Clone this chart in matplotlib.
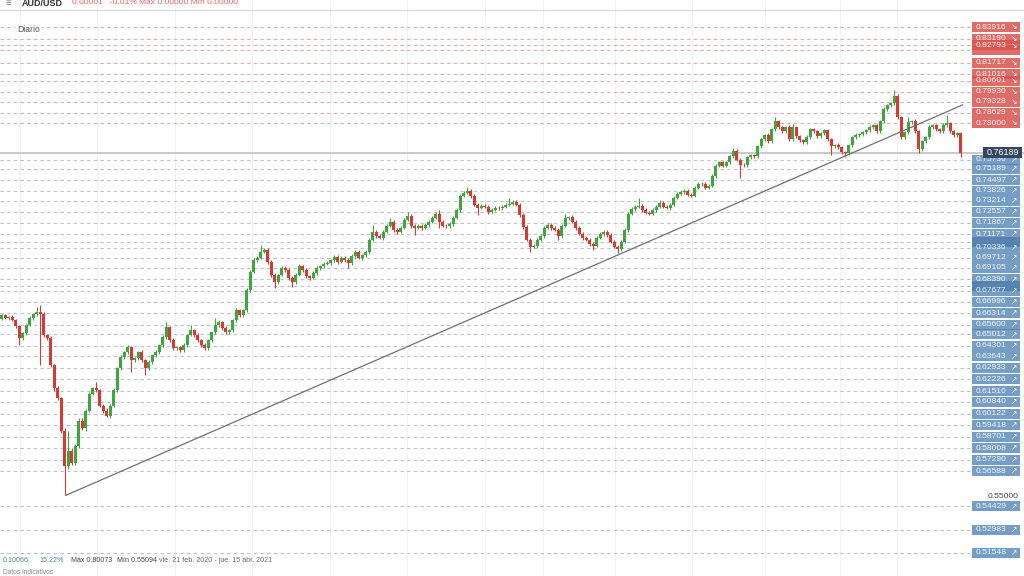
import matplotlib
matplotlib.use("Agg")
import matplotlib.pyplot as plt
from matplotlib.patches import Rectangle

plt.rcParams['font.family'] = ['Liberation Sans', 'DejaVu Sans']

# ---------------- data ----------------
closes = [
    0.6618, 0.6600, 0.6605, 0.6588, 0.6551, 0.6477, 0.6507, 0.6557, 0.6600, 0.6624, 0.6637, 0.6624, 0.6495, 0.6477, 0.6309, 0.6168, 0.6106, 0.5908, 0.5691, 0.5784, 0.5710, 0.5815, 0.5970, 0.5921, 0.6031,
    0.6136, 0.6168, 0.6155, 0.6062, 0.6031, 0.6000, 0.6062, 0.6155, 0.6291, 0.6359, 0.6390, 0.6421, 0.6340, 0.6352, 0.6390, 0.6340, 0.6291, 0.6328, 0.6371, 0.6390, 0.6433, 0.6482, 0.6544, 0.6464, 0.6414,
    0.6420, 0.6402, 0.6433, 0.6495, 0.6526, 0.6495, 0.6464, 0.6433, 0.6414, 0.6464, 0.6513, 0.6557, 0.6575, 0.6538, 0.6513, 0.6526, 0.6588, 0.6649, 0.6618, 0.6649, 0.6773, 0.6885, 0.6958, 0.6971, 0.7008,
    0.7020, 0.6946, 0.6866, 0.6823, 0.6866, 0.6909, 0.6897, 0.6847, 0.6823, 0.6866, 0.6921, 0.6897, 0.6860, 0.6847, 0.6878, 0.6909, 0.6921, 0.6933, 0.6940, 0.6958, 0.6977, 0.6946, 0.6971, 0.6958, 0.6940,
    0.6983, 0.7008, 0.6971, 0.6989, 0.7008, 0.7082, 0.7132, 0.7107, 0.7095, 0.7132, 0.7169, 0.7194, 0.7144, 0.7132, 0.7156, 0.7206, 0.7230, 0.7169, 0.7156, 0.7169, 0.7156, 0.7175, 0.7194, 0.7218, 0.7243,
    0.7194, 0.7169, 0.7165, 0.7181, 0.7218, 0.7267, 0.7354, 0.7372, 0.7385, 0.7354, 0.7298, 0.7280, 0.7292, 0.7286, 0.7255, 0.7267, 0.7280, 0.7276, 0.7286, 0.7298, 0.7304, 0.7317, 0.7298, 0.7236, 0.7162,
    0.7082, 0.7039, 0.7045, 0.7082, 0.7107, 0.7156, 0.7175, 0.7156, 0.7144, 0.7107, 0.7169, 0.7218, 0.7222, 0.7194, 0.7156, 0.7119, 0.7095, 0.7082, 0.7057, 0.7045, 0.7095, 0.7119, 0.7132, 0.7113, 0.7070,
    0.7039, 0.7026, 0.7070, 0.7144, 0.7243, 0.7273, 0.7286, 0.7292, 0.7267, 0.7249, 0.7243, 0.7267, 0.7286, 0.7310, 0.7286, 0.7280, 0.7298, 0.7341, 0.7366, 0.7378, 0.7385, 0.7360, 0.7354, 0.7403, 0.7428,
    0.7424, 0.7403, 0.7416, 0.7477, 0.7539, 0.7558, 0.7539, 0.7558, 0.7595, 0.7626, 0.7576, 0.7545, 0.7541, 0.7589, 0.7601, 0.7595, 0.7657, 0.7700, 0.7725, 0.7688, 0.7762, 0.7811, 0.7774, 0.7749, 0.7774,
    0.7700, 0.7774, 0.7718, 0.7694, 0.7681, 0.7712, 0.7762, 0.7749, 0.7718, 0.7737, 0.7755, 0.7700, 0.7657, 0.7663, 0.7651, 0.7620, 0.7614, 0.7663, 0.7712, 0.7725, 0.7731, 0.7743, 0.7755, 0.7774, 0.7786,
    0.7749, 0.7811, 0.7885, 0.7910, 0.7922, 0.7966, 0.7836, 0.7712, 0.7743, 0.7805, 0.7811, 0.7749, 0.7638, 0.7688, 0.7712, 0.7774, 0.7786, 0.7762, 0.7749, 0.7786, 0.7799, 0.7749, 0.7725, 0.7737, 0.7619,
]
first_open = 0.6595

# wick lengths in pips (0.0001)
upper_wick_pips = [
    8, 10, 6, 12, 9, 7, 10, 8, 11, 9, 31, 43, 14, 10, 12, 9, 15, 11, 13, 120, 18, 12, 16, 14, 10,
    12, 9, 36, 11, 8, 13, 10, 12, 9, 14, 10, 12, 8, 11, 9, 12, 10, 13, 9, 11, 10, 12, 31, 9, 11,
    10, 8, 12, 9, 31, 10, 11, 8, 12, 9, 10, 43, 11, 9, 12, 10, 8, 13, 10, 9, 11, 12, 10, 9, 43,
    12, 10, 9, 11, 8, 12, 10, 9, 13, 11, 10, 9, 12, 8, 11, 10, 9, 12, 10, 8, 11, 13, 9, 10, 12,
    9, 11, 10, 8, 12, 10, 43, 9, 11, 10, 12, 24, 10, 9, 11, 12, 25, 10, 9, 11, 10, 12, 9, 10, 11,
    24, 10, 9, 12, 10, 11, 9, 12, 24, 10, 11, 9, 12, 10, 9, 11, 10, 12, 9, 10, 37, 11, 9, 12, 10,
    9, 11, 10, 12, 9, 10, 11, 12, 9, 10, 11, 25, 9, 12, 10, 11, 9, 10, 12, 9, 11, 10, 12, 9, 10,
    11, 9, 10, 12, 11, 9, 10, 49, 11, 9, 12, 10, 9, 19, 11, 10, 9, 12, 10, 11, 9, 12, 10, 9, 11,
    10, 12, 9, 11, 10, 12, 9, 10, 11, 24, 12, 10, 9, 11, 10, 12, 9, 11, 10, 12, 9, 25, 10, 11, 9,
    12, 18, 10, 11, 9, 12, 10, 11, 9, 10, 12, 11, 9, 10, 12, 11, 9, 10, 11, 12, 9, 10, 11, 12, 9,
    11, 10, 12, 9, 11, 41, 12, 10, 11, 31, 9, 12, 10, 11, 9, 12, 10, 11, 9, 12, 49, 10, 11, 9, 10,
]
lower_wick_pips = [
    9, 7, 11, 8, 10, 44, 9, 12, 8, 10, 9, 315, 11, 13, 10, 15, 12, 14, 182, 20, 15, 12, 14, 11, 13,
    10, 12, 9, 11, 13, 10, 12, 9, 11, 10, 12, 9, 74, 10, 11, 12, 43, 10, 9, 12, 11, 10, 9, 12, 10,
    11, 9, 12, 10, 8, 11, 10, 12, 9, 11, 10, 9, 12, 10, 11, 9, 12, 10, 11, 9, 12, 10, 9, 11, 10,
    9, 12, 10, 38, 11, 9, 12, 10, 32, 11, 9, 12, 10, 11, 9, 12, 10, 11, 9, 10, 12, 11, 9, 10, 31,
    10, 12, 9, 11, 10, 12, 9, 11, 10, 12, 9, 10, 11, 12, 9, 10, 11, 12, 43, 10, 11, 9, 12, 10, 11,
    38, 10, 11, 9, 12, 10, 11, 9, 10, 12, 11, 44, 10, 9, 12, 11, 10, 9, 12, 10, 11, 9, 10, 12, 11,
    10, 31, 9, 11, 10, 12, 9, 11, 10, 25, 11, 9, 12, 10, 11, 9, 12, 10, 11, 25, 10, 9, 12, 11, 10,
    9, 24, 11, 10, 12, 9, 11, 10, 12, 9, 10, 11, 12, 9, 10, 11, 12, 9, 10, 11, 12, 10, 9, 11, 10,
    12, 9, 11, 10, 12, 9, 11, 10, 12, 9, 10, 80, 11, 9, 12, 10, 11, 9, 12, 10, 11, 9, 10, 12, 11,
    10, 9, 12, 11, 10, 9, 12, 11, 10, 9, 12, 11, 50, 10, 9, 12, 25, 11, 10, 9, 12, 11, 10, 9, 12,
    11, 10, 9, 12, 11, 10, 12, 11, 10, 9, 12, 11, 20, 10, 9, 12, 11, 10, 9, 12, 11, 10, 9, 12, 30,
]

# labelled levels (readable in the reference)
sell_levels = [0.83916, 0.83190, 0.82793, 0.81717, 0.81016, 0.80601, 0.79930, 0.79328, 0.78629, 0.78000]
buy_levels = [0.75736, 0.75189, 0.74497, 0.73826, 0.73214, 0.72557, 0.71867, 0.71171, 0.70336,
              0.69712, 0.69105, 0.68390, 0.67677, 0.66996, 0.66314, 0.65600, 0.65012, 0.64301,
              0.63643, 0.62933, 0.62226, 0.61510, 0.60840, 0.60122, 0.59418, 0.58701, 0.58008, 0.57290,
              0.56588, 0.54429, 0.52983, 0.51548]
# levels whose labels are hidden beneath neighbouring labels
hidden_sell_levels = [0.82500]
hidden_buy_levels = [0.70700, 0.68000]
last_price = 0.76189
axis_tick = 0.55000
trend_start = (18.3, 0.55094)
trend_end = (274.5, 0.7912)

stats_change = "0.10066"
stats_pct = "15.22%"
stats_max = "Máx 0.80073"
stats_min = "Mín 0.55094"
stats_range = "vie. 21 feb. 2020 - jue. 15 abr. 2021"

# ---------------- figure ----------------
W, H = 1024, 576
fig = plt.figure(figsize=(W / 100, H / 100), dpi=100)
fig.patch.set_facecolor("white")
ax = fig.add_axes([0, 0, 1, 1])
ax.set_axis_off()

Y_TOP, PX = 0.85578, 0.0006154          # price at top edge, price per pixel
ax.set_ylim(Y_TOP - PX * H, Y_TOP)
step = 3.5
ax.set_xlim(-1.75 / step, (W - 1.75) / step)

def fx(px):
    return px / W

def fy(py):
    return 1 - py / H

yt = ax.get_yaxis_transform()

# vertical faint grid
for xp in [20, 97, 175, 252, 330, 407, 485, 543, 615, 692, 765, 840, 897]:
    ax.axvline((xp - 1.75) / step, color="#f1f1f1", lw=0.8, zorder=0)

# level lines
for lv in sell_levels + hidden_sell_levels:
    ax.axhline(lv, xmin=0, xmax=fx(972), color="#dfaaaa", lw=0.8, ls=(0, (3, 3)), zorder=1)
for lv in buy_levels + hidden_buy_levels:
    ax.axhline(lv, xmin=0, xmax=fx(972), color="#b9c1cc", lw=0.8, ls=(0, (3, 3)), zorder=1)

# last-price line
ax.axhline(last_price, color="#c9c9c9", lw=1.4, zorder=1)

# candles
n = len(closes)
opens = [first_open] + closes[:-1]
green, red = "#3fa63f", "#d63a33"
for i in range(n):
    o, c = opens[i], closes[i]
    hi = max(o, c) + upper_wick_pips[i] * 0.0001
    lo = min(o, c) - lower_wick_pips[i] * 0.0001
    col = green if c >= o else red
    ax.vlines(i, lo, hi, color=col, lw=0.8, zorder=3)
    h = max(abs(c - o), 0.0004)
    ax.bar(i, h, bottom=min(o, c), width=0.82, color=col, lw=0, zorder=4)

# trend line
ax.plot([trend_start[0], trend_end[0]], [trend_start[1], trend_end[1]], color="#707070", lw=0.9, zorder=5)

# right-side labels
bh = 10 * PX
def level_box(lv, color, alpha, arrow, text=True):
    ax.add_patch(Rectangle((fx(972), lv - bh / 2), fx(48), bh, transform=yt,
                           facecolor=color, alpha=alpha, lw=0, zorder=6))
    if text:
        ax.text(fx(976), lv, f"{lv:.5f}", transform=yt, color="white", fontsize=6.1,
                va="center", ha="left", zorder=7, alpha=0.92)
        ax.text(fx(1017), lv, arrow, transform=yt, color="white", fontsize=5.5,
                va="center", ha="right", zorder=7, family=["DejaVu Sans"])

for lv in hidden_sell_levels:
    level_box(lv, "#d9534f", 0.85, "\u2198", text=False)
for lv in sell_levels:
    level_box(lv, "#d9534f", 0.85, "\u2198")
for lv in hidden_buy_levels:
    level_box(lv, "#3d6fa0", 0.85, "\u2197", text=False)
for lv in buy_levels:
    level_box(lv, "#4f82b3", 0.78, "\u2197")

# current price label
ax.add_patch(Rectangle((fx(983), last_price - 5.5 * PX), fx(39), 11 * PX, transform=yt,
                       facecolor="#33475f", lw=0, zorder=8))
ax.text(fx(1002.5), last_price, f"{last_price:.5f}", transform=yt, color="white",
        fontsize=6.4, va="center", ha="center", zorder=9)

# axis tick label
ax.text(fx(1019), axis_tick, f"{axis_tick:.5f}", transform=yt, color="#444444",
        fontsize=6.1, va="center", ha="right", zorder=7)

# header
fig.add_artist(plt.Line2D([0, 1], [fy(10), fy(10)], color="#d8d8d8", lw=0.8))
fig.text(fx(6), fy(3), "\u2261", color="#777777", fontsize=7, va="center", ha="left")
fig.text(fx(22), fy(3), "AUD/USD", color="#333333", fontsize=6.5, weight="bold", va="center", ha="left")
fig.text(fx(72), fy(3), "0.00001   -0.01% Máx 0.00000 Mín 0.00000", color="#e06666",
         fontsize=6, va="center", ha="left")
fig.text(fx(17), fy(29), "Diario", color="#555555", fontsize=6.2, va="center", ha="left",
         bbox=dict(facecolor="white", edgecolor="none", pad=1.5))

# bottom stats
yb = fy(561)
fs = 5.1
fig.text(fx(3), yb, stats_change, color="#4f82b3", fontsize=fs, va="center", ha="left")
fig.text(fx(40), yb, stats_pct, color="#4f82b3", fontsize=fs, va="center", ha="left")
fig.text(fx(71), yb, stats_max, color="#444444", fontsize=fs, va="center", ha="left")
fig.text(fx(117), yb, stats_min, color="#444444", fontsize=fs, va="center", ha="left")
fig.text(fx(159), yb, stats_range, color="#666666", fontsize=fs, va="center", ha="left")
fig.text(fx(3), fy(572), "Datos indicativos", color="#888888", fontsize=4.8, va="center", ha="left")

fig.savefig("out.png", dpi=100, facecolor="white")
